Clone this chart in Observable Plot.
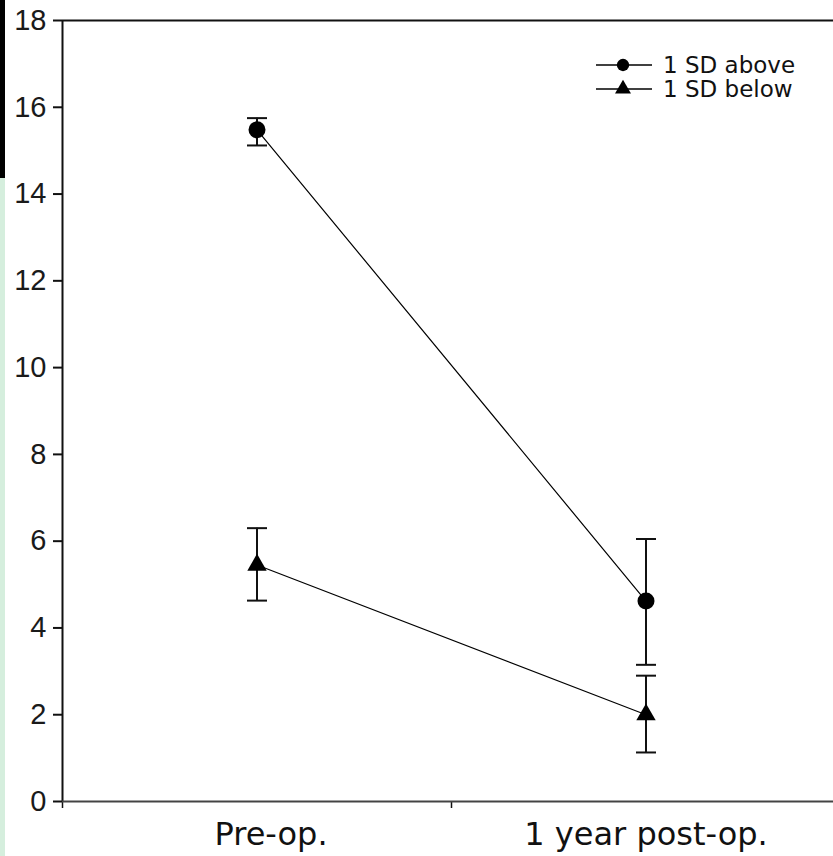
<!DOCTYPE html>
<html>
<head>
<meta charset="utf-8">
<script src="https://cdn.jsdelivr.net/npm/d3@7"></script>
<script src="https://cdn.jsdelivr.net/npm/@observablehq/plot@0.6"></script>
<style>
  html, body { margin: 0; padding: 0; background: #fff; }
  #wrap { position: relative; width: 833px; height: 856px; overflow: hidden; }
  #stripBlack { position: absolute; left: 0; top: 0; width: 5px; height: 178px; background: #000; }
  #stripGreen { position: absolute; left: 0; top: 178px; width: 5px; height: 678px; background: #d5eedd; }
  #legend { position: absolute; left: 0; top: 0; }
</style>
</head>
<body>
<div id="wrap">
  <div id="chart"></div>
  <div id="stripBlack"></div>
  <div id="stripGreen"></div>
</div>
<script>
// ---- data ----
const categories = ["Pre-op.", "1 year post-op."];
const groups = ["1 SD above", "1 SD below"];
const aboveMean = [15.48, 4.62];
const aboveLow  = [15.12, 3.15];
const aboveHigh = [15.75, 6.05];
const belowMean = [5.45, 2.0];
const belowLow  = [4.63, 1.13];
const belowHigh = [6.3, 2.9];
const yTicks = [0, 2, 4, 6, 8, 10, 12, 14, 16, 18];

// table built from the arrays
const series = [
  {mean: aboveMean, low: aboveLow, high: aboveHigh},
  {mean: belowMean, low: belowLow, high: belowHigh}
];
const rows = [];
series.forEach((s, g) => {
  categories.forEach((c, i) => {
    rows.push({group: groups[g], pos: i + 0.5, cat: c,
               mean: s.mean[i], low: s.low[i], high: s.high[i]});
  });
});
const capRows = rows.flatMap(d => [{pos: d.pos, v: d.low}, {pos: d.pos, v: d.high}]);

// horizontal-bar symbol for error-bar caps
const capSymbol = {
  draw(ctx, size) {
    const r = Math.sqrt(size / Math.PI);
    ctx.moveTo(-r, 0);
    ctx.lineTo(r, 0);
  }
};

const chart = Plot.plot({
  width: 833,
  height: 856,
  marginLeft: 62,
  marginRight: 0,
  marginTop: 20,
  marginBottom: 55,
  style: {fontFamily: "Liberation Sans, Arial, sans-serif", background: "transparent", color: "#111"},
  x: {type: "linear", domain: [0, 2], range: [62, 840]},
  y: {domain: [0, 18]},
  marks: [
    Plot.axisY({ticks: yTicks, tickSize: 9, tickPadding: 7, fontSize: 29, tickFormat: d => String(d),
                label: null, strokeWidth: 2, fill: "#1a1a1a"}),
    Plot.axisX({ticks: [0, 1, 2], tickSize: 7, tickFormat: () => "", label: null, strokeWidth: 1.5}),
    Plot.axisX({ticks: categories.map((c, i) => i + 0.5), tickSize: 0, tickPadding: 21,
                tickFormat: d => categories[Math.floor(d)], fontSize: 32,
                fontFamily: "DejaVu Sans, sans-serif", label: null, fill: "#111"}),
    Plot.ruleX([0], {stroke: "#111", strokeWidth: 2}),
    Plot.ruleY([18], {stroke: "#111", strokeWidth: 2}),
    Plot.ruleY([0], {stroke: "#444", strokeWidth: 2}),
    Plot.line(rows, {x: "pos", y: "mean", z: "group", stroke: "#000", strokeWidth: 1.2}),
    Plot.ruleX(rows, {x: "pos", y1: "low", y2: "high", stroke: "#111", strokeWidth: 2}),
    Plot.dot(capRows, {x: "pos", y: "v", symbol: capSymbol, r: 10, stroke: "#111", strokeWidth: 2, fill: "none"}),
    Plot.dot(rows.filter(d => d.group === groups[0]), {x: "pos", y: "mean", symbol: "circle", r: 8.5, fill: "#000", stroke: "none"}),
    Plot.dot(rows.filter(d => d.group === groups[1]), {x: "pos", y: "mean", symbol: "triangle", r: 7.2, fill: "#000", stroke: "none"})
  ]
});

document.getElementById("chart").appendChild(chart);

// shift the first category label slightly right, as in the reference
const catTexts = d3.select(chart).selectAll("text").filter(function() {
  return categories.includes(this.textContent);
});
catTexts.filter(function() { return this.textContent === categories[0]; })
  .attr("dx", 14);

// legend
const leg = d3.select("#wrap").append("svg").attr("id", "legend")
  .attr("width", 833).attr("height", 120);
const legX = 596, legY = [65, 89];
groups.forEach((g, i) => {
  const y = legY[i];
  leg.append("line").attr("x1", legX).attr("x2", legX + 56).attr("y1", y).attr("y2", y)
    .attr("stroke", "#000").attr("stroke-width", 1.5);
  const sym = d3.symbol().type(i === 0 ? d3.symbolCircle : d3.symbolTriangle).size(i === 0 ? 120 : 110);
  leg.append("path").attr("d", sym()).attr("transform", `translate(${legX + 27},${y})`).attr("fill", "#000");
  leg.append("text").attr("x", legX + 67).attr("y", y).attr("dy", "0.36em")
    .attr("font-family", "DejaVu Sans, sans-serif").attr("font-size", 23).attr("fill", "#111")
    .text(g);
});
</script>
</body>
</html>
